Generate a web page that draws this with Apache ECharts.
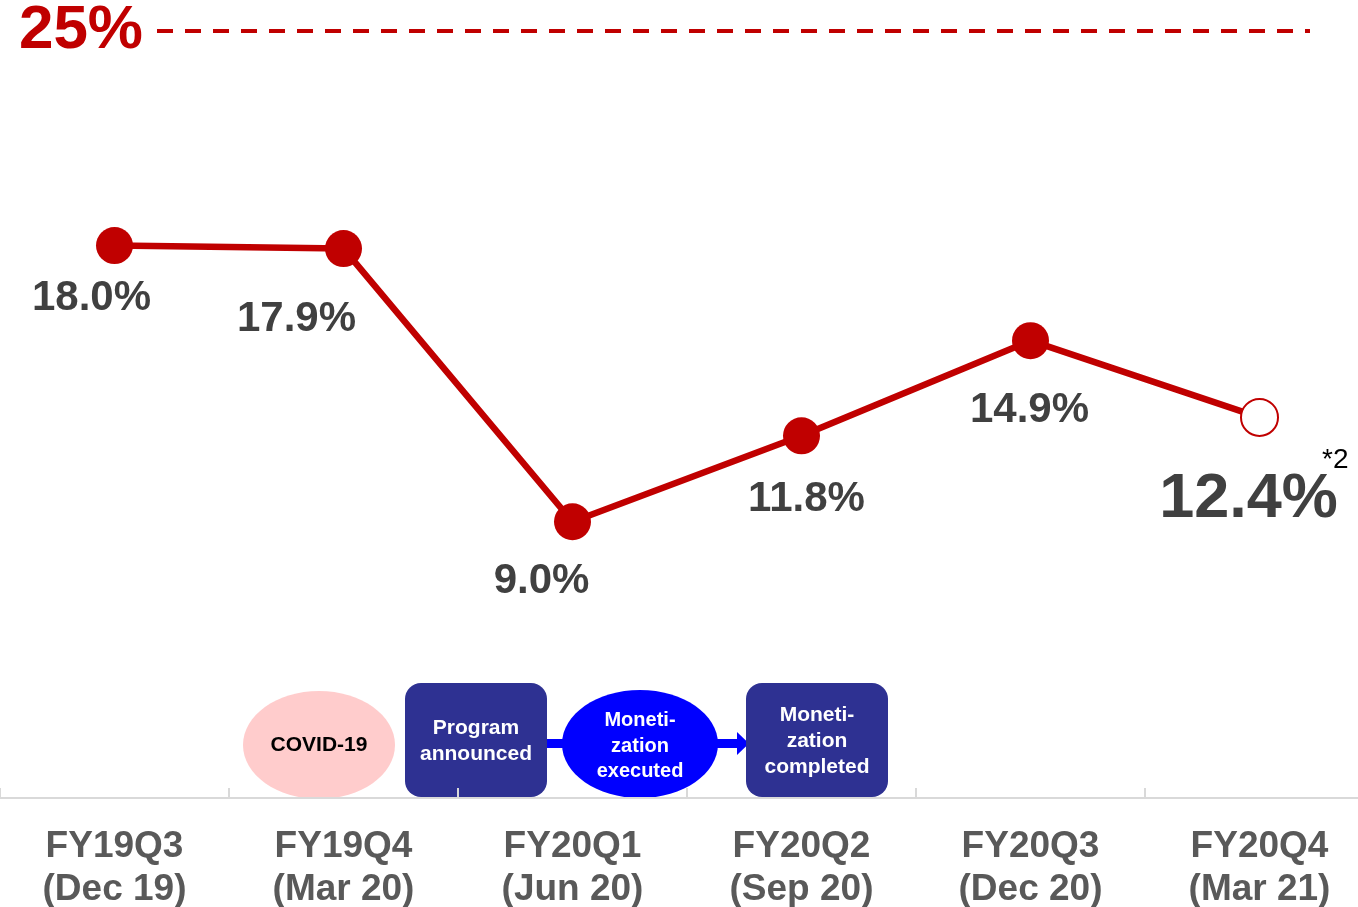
<!DOCTYPE html>
<html>
<head>
<meta charset="utf-8">
<script src="https://cdn.jsdelivr.net/npm/echarts@6/dist/echarts.min.js"></script>
<style>
  html, body { margin: 0; padding: 0; background: #fff; }
  #main { width: 1358px; height: 907px; }
</style>
</head>
<body>
<div id="main"></div>
<script>
// data
var quarters = ['FY19Q3\n(Dec 19)', 'FY19Q4\n(Mar 20)', 'FY20Q1\n(Jun 20)', 'FY20Q2\n(Sep 20)', 'FY20Q3\n(Dec 20)', 'FY20Q4\n(Mar 21)'];
var ratio = [18.0, 17.9, 9.0, 11.8, 14.9, 12.4];
var target = 25;
// label offsets from each point (px)
var labelOffsets = [[-23, 53], [-47, 71], [-31, 60], [5, 64], [-1, 70], [-11, 82]];

var FONT = '"Liberation Sans", Arial, sans-serif';
var RED = '#c00000';
var NAVY = '#2e3192';

var chart = echarts.init(document.getElementById('main'));

var points = ratio.map(function (v, i) {
    var last = i === ratio.length - 1;
    return {
        value: v,
        symbol: last ? 'emptyCircle' : 'circle',
        itemStyle: last ? { color: RED, borderWidth: 2 } : { color: RED },
        label: {
            offset: labelOffsets[i],
            fontSize: last ? 63 : 42
        }
    };
});

var option = {
    animation: false,
    backgroundColor: '#fff',
    grid: { left: 0, top: 0, right: -16, bottom: 109, containLabel: false, outerBoundsMode: 'none' },
    xAxis: {
        type: 'category',
        data: quarters,
        boundaryGap: true,
        axisLine: { lineStyle: { color: '#d9d9d9', width: 2 } },
        axisTick: { show: true, inside: true, length: 10, lineStyle: { color: '#d9d9d9', width: 2 } },
        axisLabel: {
            margin: 27,
            fontFamily: FONT,
            fontWeight: 'bold',
            fontSize: 37,
            lineHeight: 43,
            color: '#595959'
        }
    },
    yAxis: {
        type: 'value',
        min: 0,
        max: 26,
        show: false,
        splitLine: { show: false }
    },
    series: [{
        type: 'line',
        data: points,
        symbolSize: 37,
        lineStyle: { color: RED, width: 6.5 },
        z: 3,
        label: {
            show: true,
            position: 'inside',
            align: 'center',
            verticalAlign: 'middle',
            fontFamily: FONT,
            fontWeight: 'bold',
            color: '#404040',
            formatter: function (p) { return p.value.toFixed(1) + '%'; }
        },
        markLine: {
            silent: true,
            symbol: 'none',
            lineStyle: { color: RED, type: [16, 12], width: 4 },
            label: {
                show: true,
                position: 'start',
                distance: 14,
                formatter: target + '%',
                fontFamily: FONT,
                fontWeight: 'bold',
                fontSize: 62,
                color: RED
            },
            data: [[{ x: 157, yAxis: target }, { x: 1310, yAxis: target }]]
        }
    }],
    graphic: [
        // footnote marker next to the latest value
        { type: 'text', left: 1322, top: 446, style: { text: '*2', font: '28px ' + FONT, fill: '#000' } },
        // timeline of events along the bottom
        { type: 'ellipse', shape: { cx: 319, cy: 745, rx: 76, ry: 54 }, style: { fill: '#ffcccc' } },
        { type: 'text', x: 319, y: 745, style: { text: 'COVID-19', font: 'bold 21px ' + FONT, fill: '#000', align: 'center', verticalAlign: 'middle' } },
        { type: 'rect', shape: { x: 541, y: 739, width: 30, height: 9 }, style: { fill: '#0000ff' } },
        { type: 'rect', shape: { x: 405, y: 683, width: 142, height: 114, r: 16 }, style: { fill: NAVY } },
        { type: 'text', x: 476, y: 741, style: { text: 'Program\nannounced', font: 'bold 21px ' + FONT, lineHeight: 26, fill: '#fff', align: 'center', verticalAlign: 'middle' } },
        { type: 'rect', shape: { x: 712, y: 739, width: 27, height: 9 }, style: { fill: '#0000ff' } },
        { type: 'polygon', shape: { points: [[737, 732], [749, 743.5], [737, 755]] }, style: { fill: '#0000ff' } },
        { type: 'ellipse', shape: { cx: 640, cy: 744, rx: 78, ry: 54 }, style: { fill: '#0000ff' } },
        { type: 'text', x: 640, y: 746, style: { text: 'Moneti-\nzation\nexecuted', font: 'bold 20px ' + FONT, lineHeight: 25.5, fill: '#fff', align: 'center', verticalAlign: 'middle' } },
        { type: 'rect', shape: { x: 746, y: 683, width: 142, height: 114, r: 16 }, style: { fill: NAVY } },
        { type: 'text', x: 817, y: 741, style: { text: 'Moneti-\nzation\ncompleted', font: 'bold 21px ' + FONT, lineHeight: 26, fill: '#fff', align: 'center', verticalAlign: 'middle' } }
    ]
};

chart.setOption(option);
</script>
</body>
</html>
